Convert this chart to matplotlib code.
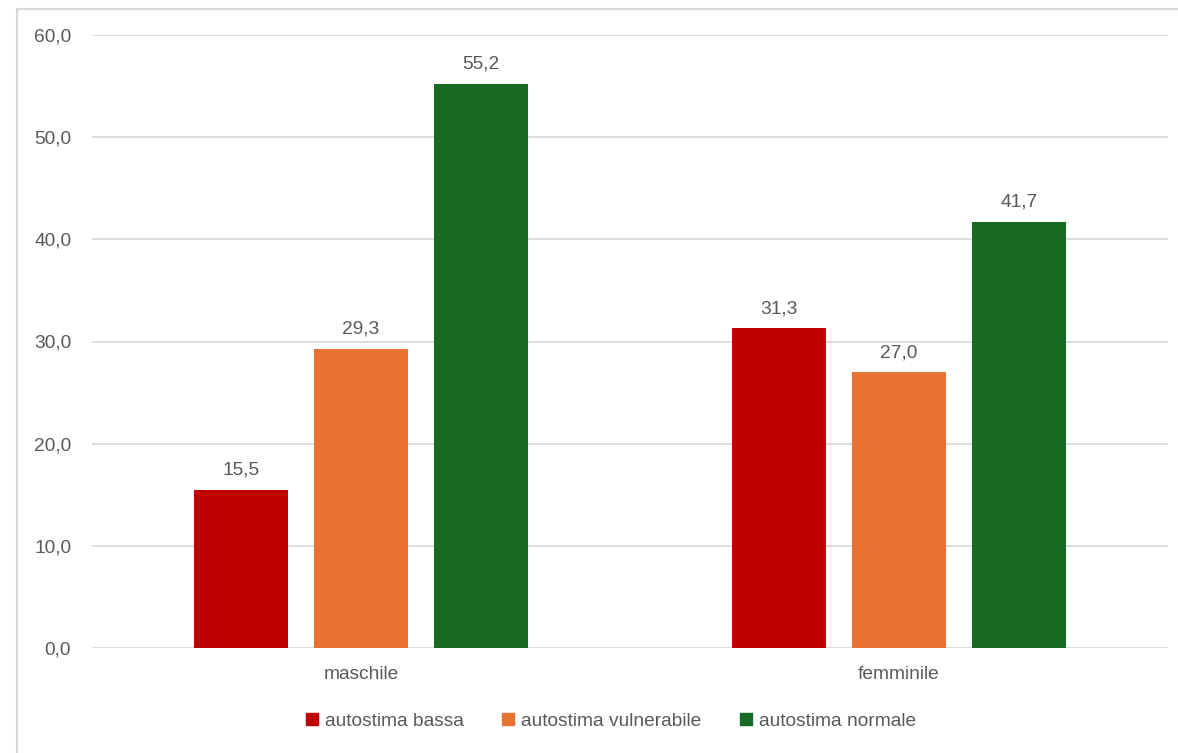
import matplotlib
matplotlib.use("Agg")
import matplotlib.pyplot as plt
from matplotlib.patches import Rectangle
from matplotlib.lines import Line2D
import numpy as np

categories = ["maschile", "femminile"]
series_names = ["autostima bassa", "autostima vulnerabile", "autostima normale"]
bassa = [15.5, 31.3]
vulnerabile = [29.3, 27.0]
normale = [55.2, 41.7]
colors = ["#C00000", "#E97132", "#196B24"]
yticks = [0, 10, 20, 30, 40, 50, 60]

plt.rcParams['font.family'] = ['Liberation Sans', 'DejaVu Sans']
txt = "#595959"
grid = "#D9D9D9"
fs = 13.8

fig = plt.figure(figsize=(11.78, 7.53), dpi=100)
W, H = 1178, 753
ax = fig.add_axes([92 / W, 1 - 648 / H, (1168 - 92) / W, (648 - 35) / H])

x = np.arange(len(categories))
width = 94 / 538
step = 120 / 538
data = [bassa, vulnerabile, normale]
for i, (vals, name, c) in enumerate(zip(data, series_names, colors)):
    bars = ax.bar(x + (i - 1) * step, vals, width, color=c, label=name, zorder=3)
    ax.bar_label(bars, labels=[f"{v:.1f}".replace(".", ",") for v in vals],
                 padding=8, color=txt, fontsize=fs)

ax.set_xlim(-0.5, 1.5)
ax.set_ylim(0, 60)
ax.set_yticks(yticks)
ax.set_yticklabels([f"{v:.1f}".replace(".", ",") for v in yticks], color=txt, fontsize=fs)
ax.set_xticks(x)
ax.set_xticklabels(categories, color=txt, fontsize=fs)
ax.tick_params(axis='both', length=0)
ax.tick_params(axis='y', pad=15)
ax.tick_params(axis='x', pad=13)
ax.grid(axis='y', color=grid, linewidth=1.3, zorder=0)
for s in ax.spines.values():
    s.set_visible(False)

handles = [Line2D([0], [0], marker='s', linestyle='none', markersize=9,
                  markerfacecolor=c, markeredgecolor=c) for c in colors]
fig.legend(handles, series_names, loc='center', bbox_to_anchor=(610 / W, 1 - 721 / H),
           ncol=3, frameon=False, fontsize=fs, labelcolor=txt,
           handletextpad=0.3, columnspacing=1.9, handlelength=0.8)

border = Rectangle((17 / W, -0.1), 1.2, 1.1 - 9 / H, transform=fig.transFigure,
                   fill=False, edgecolor=grid, linewidth=1.5)
fig.patches.append(border)

fig.savefig("out.png", dpi=100)
